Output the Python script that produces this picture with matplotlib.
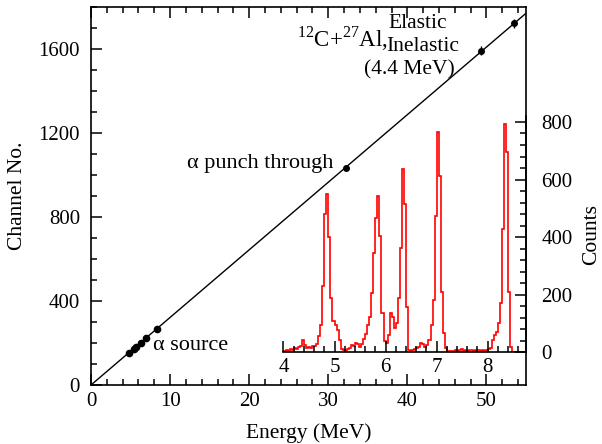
import matplotlib
matplotlib.use("Agg")
import matplotlib.pyplot as plt
from matplotlib.ticker import MultipleLocator
import numpy as np

plt.rcParams['font.family'] = ['Liberation Serif', 'DejaVu Serif']
plt.rcParams['mathtext.fontset'] = 'custom'
plt.rcParams['mathtext.rm'] = 'Liberation Serif'
plt.rcParams['font.size'] = 14

# calibration points (energy in MeV, channel number)
alpha_E = [4.8, 5.4, 5.7, 6.3, 7.0, 8.4]
alpha_ch = [153, 172, 181, 200, 222, 267]
punch_E = [32.3]
punch_ch = [1035]
ion_E = [49.3, 53.5]
ion_ch = [1592, 1722]
ion_err = [20, 20]

# inset spectrum: counts per 0.04 MeV bin starting at 4.0 MeV
spec_start = 4.0
spec_bin = 0.04
counts = [3, 8, 5, 10, 8, 14, 12, 18, 22, 42, 24, 16, 20, 15, 22, 22, 28, 55,
          95, 230, 480, 550, 400, 190, 110, 95, 78, 43, 12,
          8, 6, 10, 14, 25, 22, 31, 28, 20, 30, 45, 62,
          95, 124, 206, 345, 467, 543, 403, 136, 40, 32, 60,
          136, 124, 85, 101, 188, 363, 636, 514, 159,
          8, 5, 8, 10, 15, 20, 34, 28, 20, 25, 43, 95, 182, 473, 764, 613, 211, 66, 15, 4,
          3, 6, 4, 8, 5, 7, 10, 6, 8, 5, 7, 9, 6, 8, 7, 5, 8, 6, 8, 10, 14,
          43, 60, 72, 103, 171, 427, 793, 697, 211, 20,
          2, 0, 0, 0, 0, 0]

all_E = np.array(alpha_E + punch_E + ion_E)
all_ch = np.array(alpha_ch + punch_ch + ion_ch)
slope = np.sum(all_E * all_ch) / np.sum(all_E ** 2)

fig = plt.figure(figsize=(6.02, 4.44), dpi=100)
ax = fig.add_axes([0.1512, 0.1329, 0.7226, 0.8513])

xs = np.array([0, 55])
ax.plot(xs, slope * xs, color='black', lw=1)
ax.plot(alpha_E, alpha_ch, 'o', color='black', ms=4.5)
ax.plot(punch_E, punch_ch, 'o', color='black', ms=4)
ax.errorbar(ion_E, ion_ch, yerr=ion_err, fmt='o', color='black', ms=4,
            elinewidth=1, capsize=0)

ax.set_xlim(0, 55)
ax.set_ylim(0, 1800)
ax.xaxis.set_major_locator(MultipleLocator(10))
ax.xaxis.set_minor_locator(MultipleLocator(2))
ax.yaxis.set_major_locator(MultipleLocator(400))
ax.yaxis.set_minor_locator(MultipleLocator(100))
ax.tick_params(which='both', direction='in', top=True, right=False, width=1.1)
ax.tick_params(which='major', length=8, labelsize=15)
ax.tick_params(which='minor', length=4.5)
ax.tick_params(axis='x', pad=5)
ax.tick_params(axis='y', pad=8)
for s in ax.spines.values():
    s.set_linewidth(1.2)

ax.set_xlabel('Energy (MeV)', fontsize=15.5)
ax.xaxis.set_label_coords(0.5, -0.1)
ax.set_ylabel('Channel No.', fontsize=15.5)
ax.yaxis.set_label_coords(-0.147, 0.5)

ax.text(12.1, 1057, 'α punch through', fontsize=16, va='center', ha='left')
ax.text(7.8, 190, 'α source', fontsize=16, va='center', ha='left')
ax.text(37.5, 1650, r'$^{12}$C+$^{27}$Al,', fontsize=16.5, va='center', ha='right')
ax.text(37.6, 1722, 'Elastic', fontsize=15.5, va='center', ha='left')
ax.text(37.3, 1612, 'Inelastic', fontsize=15.5, va='center', ha='left')
ax.text(46.0, 1502, '(4.4 MeV)', fontsize=15.5, va='center', ha='right')

# inset spectrum
ax2 = fig.add_axes([0.4709, 0.2065, 0.4028, 0.5318])
ax2.patch.set_alpha(0)
edges = spec_start + spec_bin * np.arange(len(counts) + 1)
ax2.stairs(counts, edges, color='#ff0000', lw=1.2)
ax2.set_xlim(4, 8.75)
ax2.set_ylim(0, 820)
for side in ['top', 'left']:
    ax2.spines[side].set_visible(False)
ax2.spines['bottom'].set_linewidth(1.2)
ax2.spines['right'].set_linewidth(1.2)
ax2.yaxis.tick_right()
ax2.yaxis.set_label_position('right')
ax2.xaxis.set_major_locator(MultipleLocator(1))
ax2.xaxis.set_minor_locator(MultipleLocator(0.2))
ax2.yaxis.set_major_locator(MultipleLocator(200))
ax2.yaxis.set_minor_locator(MultipleLocator(40))
ax2.tick_params(which='both', direction='in', width=1.1, left=False)
ax2.tick_params(which='major', length=8, labelsize=15)
ax2.tick_params(which='minor', length=4.5)
ax2.tick_params(axis='x', pad=4)
ax2.tick_params(axis='y', pad=11)
ax2.set_ylabel('Counts', fontsize=15.5)
ax2.yaxis.set_label_coords(1.23, 0.5)

fig.savefig('out.png', dpi=100)
